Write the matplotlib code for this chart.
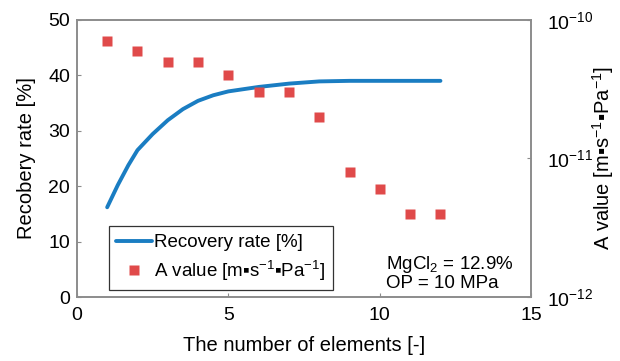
import matplotlib.pyplot as plt
from matplotlib.ticker import FixedLocator, NullLocator

plt.rcParams['font.family'] = ['Liberation Sans', 'DejaVu Sans']
plt.rcParams['mathtext.fontset'] = 'custom'
plt.rcParams['mathtext.rm'] = 'Liberation Sans'
plt.rcParams['mathtext.it'] = 'Liberation Sans:italic'
plt.rcParams['mathtext.bf'] = 'Liberation Sans:bold'

# recovery rate curve
rec_x = [1, 1.35, 1.7, 2, 2.5, 3, 3.5, 4, 4.5, 5, 6, 7, 8, 9, 10, 11, 12]
rec_y = [16.2, 20.2, 23.8, 26.5, 29.4, 31.9, 33.9, 35.4, 36.4, 37.1, 37.9, 38.5, 38.9, 39.0, 39.0, 39.0, 39.0]

# A value per element
elem = [1, 2, 3, 4, 5, 6, 7, 8, 9, 10, 11, 12]
a_val = [7e-11, 6e-11, 5e-11, 5e-11, 4e-11, 3e-11, 3e-11, 2e-11, 8e-12, 6e-12, 4e-12, 4e-12]

blue = '#1a7dc2'
red = '#e04a4a'
grey = '#8c8c8c'
a_label = 'A value [m\u25aas$^{-1}$\u25aaPa$^{-1}$]'

fig, ax = plt.subplots(figsize=(6.2, 3.61), dpi=100)
fig.subplots_adjust(left=0.124, right=0.857, top=0.945, bottom=0.177)

l1, = ax.plot(rec_x, rec_y, color=blue, lw=2.8, solid_capstyle='round',
              solid_joinstyle='round', label='Recovery rate [%]')
ax.set_xlim(0, 15)
ax.set_ylim(0, 50)
ax.set_xticks([0, 5, 10, 15])
ax.set_yticks([0, 10, 20, 30, 40, 50])
ax.set_xlabel('The number of elements [-]', fontsize=14.5, labelpad=9)
ax.set_ylabel('Recobery rate [%]', fontsize=14.5, labelpad=9)

ax2 = ax.twinx()
l2, = ax2.plot(elem, a_val, 's', color=red, ms=7.5, mec='none', label=a_label)
ax2.set_yscale('log')
ax2.set_ylim(1e-12, 1e-10)
ax2.yaxis.set_major_locator(FixedLocator([1e-12, 1e-11, 1e-10]))
ax2.yaxis.set_minor_locator(NullLocator())
ax2.set_ylabel(a_label, fontsize=14.5, labelpad=-2)

for a in (ax, ax2):
    for s in a.spines.values():
        s.set_color(grey)
        s.set_linewidth(1.2)
    a.tick_params(direction='in', length=3, color=grey, labelsize=14, pad=5)
ax.tick_params(axis='x', pad=7)
ax2.tick_params(axis='y', pad=11)

leg = ax.legend(handles=[l1, l2], loc='lower left', bbox_to_anchor=(0.07, 0.025),
                borderaxespad=0, fontsize=13.5, frameon=True, fancybox=False,
                edgecolor='black', handlelength=1.9, handletextpad=0.1,
                borderpad=0.4, labelspacing=0.4)
leg.get_frame().set_linewidth(0.9)

ax.text(0.68, 0.087, 'MgCl$_2$ = 12.9%\nOP = 10 MPa', transform=ax.transAxes,
        fontsize=13.5, ha='left', va='center', linespacing=1.0)

plt.savefig('out.png', dpi=100)
